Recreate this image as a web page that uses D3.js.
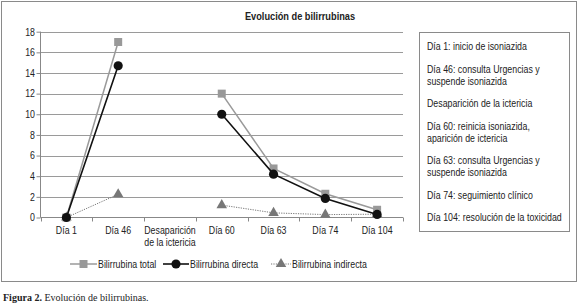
<!DOCTYPE html>
<html>
<head>
<meta charset="utf-8">
<script src="https://cdn.jsdelivr.net/npm/d3@7"></script>
<style>
  body { margin: 0; background: #fff; }
  svg text { font-family: "Liberation Sans", Arial, sans-serif; fill: #222; }
</style>
</head>
<body>
<svg id="chart" width="580" height="307"></svg>
<script>
var categories = ["Día 1", "Día 46", "Desaparición|de la ictericia", "Día 60", "Día 63", "Día 74", "Día 104"];
var totalVals = [0, 17, null, 12, 4.75, 2.3, 0.75];
var directVals = [0, 14.7, null, 10, 4.2, 1.85, 0.3];
var indirectVals = [0, 2.25, null, 1.2, 0.45, 0.28, 0.32];
var yTicks = [0, 2, 4, 6, 8, 10, 12, 14, 16, 18];
var notes = [
  ["Día 1: inicio de isoniazida"],
  ["Día 46: consulta Urgencias y", "suspende isoniazida"],
  ["Desaparición de la ictericia"],
  ["Día 60: reinicia isoniazida,", "aparición de ictericia"],
  ["Día 63: consulta Urgencias y", "suspende isoniazida"],
  ["Día 74: seguimiento clínico"],
  ["Día 104: resolución de la toxicidad"]
];

var svg = d3.select("#chart");
var margin = {top: 31.7, left: 40.5, right: 403, bottom: 217.5};
var narrow = 0.84;

// narrow-looking text: Liberation Sans squeezed horizontally
function ntext(parent, px, py, str, size, anchor) {
  return parent.append("text")
    .attr("transform", "translate(" + px + "," + py + ") scale(" + narrow + ",1)")
    .attr("text-anchor", anchor || "start")
    .style("font-size", size + "px")
    .text(str);
}

// outer frame
svg.append("rect")
  .attr("x", 1.5).attr("y", 1.5)
  .attr("width", 575).attr("height", 280)
  .style("fill", "none").style("stroke", "#8a8a8a");

ntext(svg, 300, 20, "Evolución de bilirrubinas", 11, "middle")
  .style("font-weight", "bold");

var x = d3.scaleBand().domain(d3.range(categories.length)).range([margin.left, margin.right]);
var y = d3.scaleLinear().domain([0, 18]).range([margin.bottom, margin.top]);

// gridlines
svg.append("g").selectAll("line")
  .data(yTicks.slice(1))
  .enter().append("line")
  .attr("x1", margin.left).attr("x2", margin.right)
  .attr("y1", function(d) { return Math.round(y(d)) + 0.5; })
  .attr("y2", function(d) { return Math.round(y(d)) + 0.5; })
  .style("stroke", "#9a9a9a");

// y axis
var yAxis = d3.axisLeft(y).tickValues(yTicks).tickSize(4).tickSizeOuter(0);
var gy = svg.append("g")
  .attr("transform", "translate(" + margin.left + ",0)")
  .call(yAxis);
gy.selectAll("path, line").style("stroke", "#888");
gy.selectAll("text").remove();
gy.select(".domain").attr("d", "M0," + margin.top + "V" + margin.bottom);
yTicks.forEach(function(t) {
  ntext(svg, 35, y(t) + 3.8, t, 10.5, "end");
});

// x axis: ticks at band boundaries
var xg = svg.append("g");
xg.append("line")
  .attr("x1", margin.left).attr("x2", margin.right)
  .attr("y1", y(0)).attr("y2", y(0))
  .style("stroke", "#888");
xg.selectAll(".xt")
  .data(d3.range(categories.length + 1))
  .enter().append("line")
  .attr("x1", function(i) { return Math.round(margin.left + i * x.step()) + 0.5; })
  .attr("x2", function(i) { return Math.round(margin.left + i * x.step()) + 0.5; })
  .attr("y1", y(0)).attr("y2", y(0) + 4)
  .style("stroke", "#888");

function cx(i) { return x(i) + x.bandwidth() / 2; }

categories.forEach(function(c, i) {
  c.split("|").forEach(function(p, k) {
    ntext(xg, cx(i), 234 + k * 12, p, 10.5, "middle");
  });
});

function series(vals, color, width, dash) {
  var pts = vals.map(function(v, i) { return {i: i, v: v}; });
  var line = d3.line()
    .defined(function(d) { return d.v !== null; })
    .x(function(d) { return cx(d.i); })
    .y(function(d) { return y(d.v); });
  svg.append("path")
    .datum(pts)
    .attr("d", line)
    .style("fill", "none")
    .style("stroke", color)
    .style("stroke-width", width)
    .style("stroke-dasharray", dash || null);
  return pts.filter(function(d) { return d.v !== null; });
}

var triSym = d3.symbol().type(d3.symbolTriangle).size(48);
var sqSym = d3.symbol().type(d3.symbolSquare).size(64);
var ciSym = d3.symbol().type(d3.symbolCircle).size(66);

var pInd = series(indirectVals, "#777", 1, "1.2,1.2");
svg.append("g").selectAll("path").data(pInd).enter().append("path")
  .attr("d", triSym)
  .attr("transform", function(d) { return "translate(" + cx(d.i) + "," + y(d.v) + ")"; })
  .style("fill", "#777");

var pTot = series(totalVals, "#9a9a9a", 1.5);
svg.append("g").selectAll("path").data(pTot).enter().append("path")
  .attr("d", sqSym)
  .attr("transform", function(d) { return "translate(" + cx(d.i) + "," + y(d.v) + ")"; })
  .style("fill", "#999");

var pDir = series(directVals, "#111", 1.6);
svg.append("g").selectAll("path").data(pDir).enter().append("path")
  .attr("d", ciSym)
  .attr("transform", function(d) { return "translate(" + cx(d.i) + "," + y(d.v) + ")"; })
  .style("fill", "#111");

// legend below
var legendItems = [
  {label: "Bilirrubina total", x: 70, len: 27, color: "#9a9a9a", sym: sqSym, fill: "#999", w: 1.5},
  {label: "Bilirrubina directa", x: 163, len: 26, color: "#111", sym: ciSym, fill: "#111", w: 1.6},
  {label: "Bilirrubina indirecta", x: 271, len: 20, color: "#777", sym: triSym, fill: "#777", w: 1, dash: "1.2,1.2"}
];
var lg = svg.append("g");
legendItems.forEach(function(it) {
  lg.append("line")
    .attr("x1", it.x).attr("x2", it.x + it.len)
    .attr("y1", 264).attr("y2", 264)
    .style("stroke", it.color).style("stroke-width", it.w)
    .style("stroke-dasharray", it.dash || null);
  lg.append("path")
    .attr("d", it.sym)
    .attr("transform", "translate(" + (it.x + it.len / 2) + ",264)")
    .style("fill", it.fill);
  ntext(lg, it.x + it.len + 1, 267.5, it.label, 10.5);
});

// notes box
svg.append("rect")
  .attr("x", 419.5).attr("y", 32.5)
  .attr("width", 150).attr("height", 199)
  .style("fill", "none").style("stroke", "#8a8a8a");
var ny = 50;
notes.forEach(function(n) {
  n.forEach(function(line, k) {
    ntext(svg, 427, ny + k * 12, line, 10.5);
  });
  ny += 22.5 + (n.length - 1) * 12;
});

// caption
var cap = svg.append("text")
  .attr("x", 3).attr("y", 301)
  .style("font-family", "'Liberation Serif', 'DejaVu Serif', serif")
  .style("font-size", "10px");
cap.append("tspan").style("font-weight", "bold").text("Figura 2.");
cap.append("tspan").text(" Evolución de bilirrubinas.");
</script>
</body>
</html>
